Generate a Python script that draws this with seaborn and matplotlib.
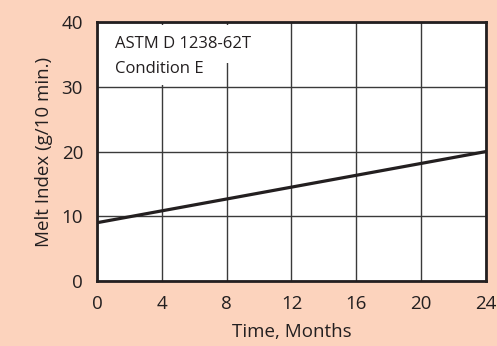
import matplotlib
matplotlib.use("Agg")
import matplotlib.pyplot as plt
import seaborn as sns
import pandas as pd

time_months = [0, 24]
melt_index = [9, 20]
x_ticks = [0, 4, 8, 12, 16, 20, 24]
y_ticks = [0, 10, 20, 30, 40]
annotation_lines = ["ASTM D 1238-62T", "Condition E"]

sns.set_theme(style="white")
plt.rcParams['font.family'] = ['Open Sans', 'DejaVu Sans']

bg = "#FCD3BD"
fig = plt.figure(figsize=(4.97, 3.46), dpi=100, facecolor=bg)
ax = fig.add_axes([0.195, 0.188, 0.783, 0.748])
ax.set_facecolor("white")

df = pd.DataFrame({"Time": time_months, "MI": melt_index})
sns.lineplot(data=df, x="Time", y="MI", ax=ax, color="#231F20", linewidth=2.3, zorder=3)

ax.set_xlim(0, 24)
ax.set_ylim(0, 40)
ax.set_xticks(x_ticks)
ax.set_yticks(y_ticks)
ax.grid(True, color="#3a3a3a", linewidth=1.0)
ax.tick_params(axis="both", length=0, labelsize=13.5, colors="#231F20", pad=10)
for s in ax.spines.values():
    s.set_color("#231F20")
    s.set_linewidth(2)
    s.set_visible(True)
    s.set_zorder(5)

ax.set_xlabel("Time, Months", fontsize=13.5, color="#231F20", labelpad=7)
ax.set_ylabel("Melt Index (g/10 min.)", fontsize=13.5, color="#231F20", labelpad=6)

ax.text(1.1, 37.9, annotation_lines[0], fontsize=12, color="#231F20", va="top", ha="left",
        zorder=4, bbox=dict(facecolor="white", edgecolor="none", pad=8))
ax.text(1.1, 34.0, annotation_lines[1], fontsize=12, color="#231F20", va="top", ha="left",
        zorder=4, bbox=dict(facecolor="white", edgecolor="none", pad=6))

fig.savefig("out.png", dpi=100, facecolor=bg)
